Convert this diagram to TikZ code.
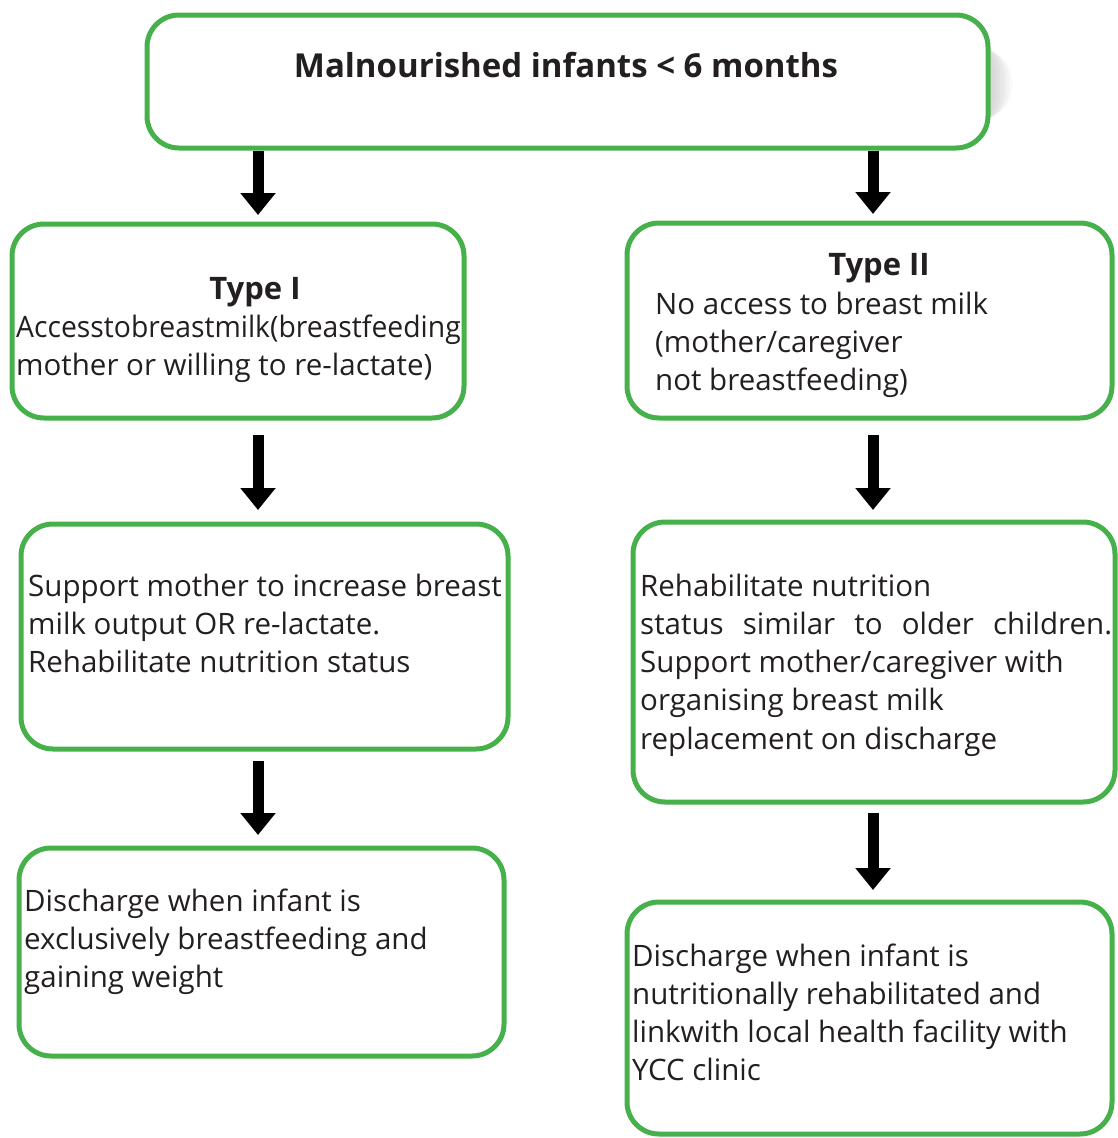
\documentclass[tikz,border=0pt]{standalone}
\usepackage{fontspec}
\usepackage{graphicx}
\setmainfont{Open Sans}
\usetikzlibrary{arrows.meta}
\definecolor{boxgreen}{RGB}{70,176,74}
\definecolor{ink}{RGB}{35,31,32}
\tikzset{
  flowbox/.style={draw=boxgreen, line width=5pt, rounded corners=32pt, fill=white,
    inner sep=0pt, outer sep=0pt},
  bodytext/.style={anchor=base west, inner sep=0pt, align=left, text=ink,
    font=\fontsize{29.5}{38.3}\selectfont},
  headtext/.style={anchor=base, inner sep=0pt, text=ink,
    font=\fontsize{31}{36}\selectfont\bfseries},
  downarrow/.style={draw=black, line width=11pt,
    -{Triangle[width=34pt,length=22pt]}}
}
\begin{document}
\begin{tikzpicture}[x=1pt, y=-1pt]
\useasboundingbox (0,0) rectangle (1118,1138);

% soft shadow to the right of the top box
\foreach \d in {1,...,8}
  \fill[black, opacity=0.022, rounded corners=30pt]
    (600,{34+2*\d}) rectangle ({988+3*\d},{134-2*\d});

% boxes
\node[flowbox, minimum width=841pt, minimum height=133pt] (top) at (567.5,81.5) {};
\node[flowbox, minimum width=452pt, minimum height=194pt] (t1) at (238,321) {};
\node[flowbox, minimum width=485pt, minimum height=195pt] (t2) at (869.5,320.5) {};
\node[flowbox, minimum width=487pt, minimum height=225pt] (s1) at (264.5,636.5) {};
\node[flowbox, minimum width=482pt, minimum height=280pt] (s2) at (874,662) {};
\node[flowbox, minimum width=485pt, minimum height=208pt] (d1) at (261.5,952) {};
\node[flowbox, minimum width=485pt, minimum height=232pt] (d2) at (869.5,1018) {};

% texts (multi-line nodes are anchored at the baseline of their last line)
\node[headtext, font=\fontsize{33}{36}\selectfont\bfseries] (toptxt) at (566,77)
  {Malnourished infants < 6 months};

\node[headtext] (t1head) at (255,299) {Type I};
\node[bodytext] (t1txt) at (16,375.3)
  {\scalebox{0.96}[1]{Accesstobreastmilk(breastfeeding}\\mother or willing to re-lactate)};

\node[headtext] (t2head) at (879,275) {Type II};
\node[bodytext] (t2txt) at (655,390.6)
  {No access to breast milk\\(mother/caregiver\\not breastfeeding)};

\node[bodytext] (s1txt) at (28,672.6)
  {Support mother to increase breast\\milk output OR re-lactate.\\Rehabilitate nutrition status};

\node[bodytext] (s2txt) at (640,749.2)
  {Rehabilitate nutrition\\\makebox[472pt][s]{status similar to older children.}\\Support mother/caregiver with\\organising breast milk\\replacement on discharge};

\node[bodytext] (d1txt) at (24,987.6)
  {Discharge when infant is\\exclusively breastfeeding and\\gaining weight};

\node[bodytext] (d2txt) at (632,1080.9)
  {Discharge when infant is\\nutritionally rehabilitated and\\linkwith local health facility with\\YCC clinic};

% arrow columns
\coordinate (lcol) at (258,0);
\coordinate (rcol) at (873,0);

% connectors
\draw[downarrow, shorten <=3pt, shorten >=9pt] (top.south -| lcol) -- (t1.north -| lcol);
\draw[downarrow, shorten <=3pt, shorten >=9pt] (top.south -| rcol) -- (t2.north -| rcol);
\draw[downarrow, shorten <=17pt, shorten >=14pt] (t1.south -| lcol) -- (s1.north -| lcol);
\draw[downarrow, shorten <=17pt, shorten >=12pt] (t2.south -| rcol) -- (s2.north -| rcol);
\draw[downarrow, shorten <=12pt, shorten >=13pt] (s1.south -| lcol) -- (d1.north -| lcol);
\draw[downarrow, shorten <=11pt, shorten >=12pt] (s2.south -| rcol) -- (d2.north -| rcol);
\end{tikzpicture}
\end{document}
